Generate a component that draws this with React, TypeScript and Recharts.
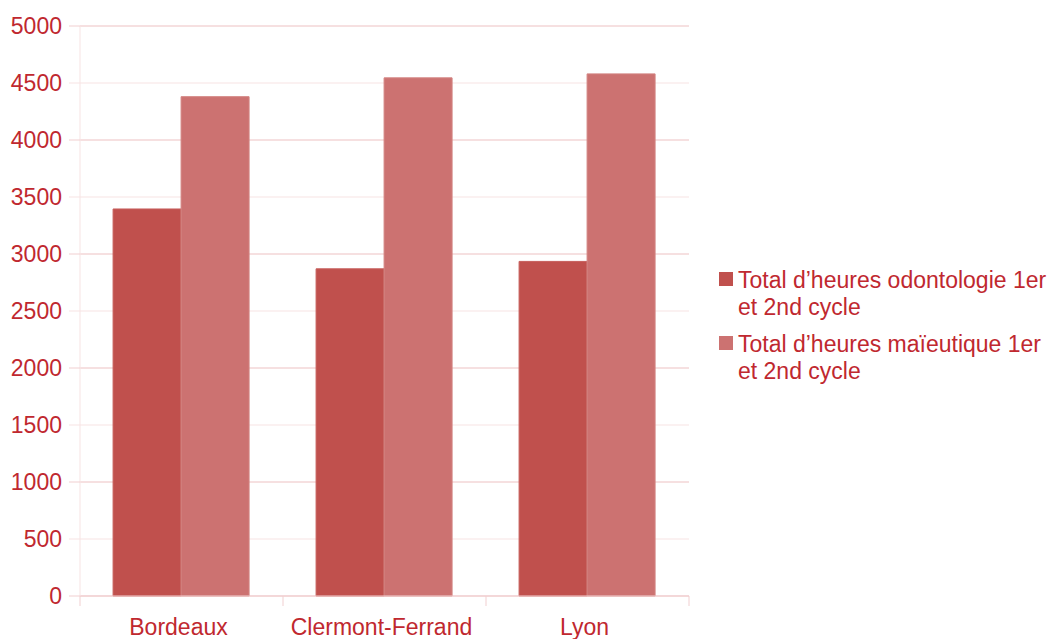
import React from "react";
import { Bar, BarChart, CartesianGrid, Legend, XAxis, YAxis } from "recharts";

const cities = ["Bordeaux", "Clermont-Ferrand", "Lyon"];
const odontologieHours = [3395, 2870, 2935];
const maieutiqueHours = [4380, 4545, 4580];
const seriesNames = [
  "Total d’heures odontologie 1er et 2nd cycle",
  "Total d’heures maïeutique 1er et 2nd cycle"
];
const yTicks = [0, 500, 1000, 1500, 2000, 2500, 3000, 3500, 4000, 4500, 5000];
const majorTicks = [0, 1000, 2000, 3000, 4000, 5000];

const chartData = cities.map((city, i) => ({
  city,
  odontologie: odontologieHours[i],
  maieutique: maieutiqueHours[i]
}));

const FONT = '"Liberation Sans", Arial, sans-serif';
const TEXT_COLOR = "#c0282f";
const GRID_MAJOR = "#f1cfd0";
const GRID_MINOR = "#f7e3e3";
const DARK_RED = "#c0504d";
const LIGHT_RED = "#cc7271";

function YTick(props: any) {
  const { x, y, payload } = props;
  const major = majorTicks.includes(payload.value);
  return (
    <g>
      <line x1={x - 11} x2={x} y1={y} y2={y} stroke={major ? GRID_MAJOR : GRID_MINOR} />
      <text x={x - 18} y={y} dy="0.355em" textAnchor="end" fill={TEXT_COLOR} fontSize={23} fontFamily={FONT}>
        {payload.value}
      </text>
    </g>
  );
}

function XTick(props: any) {
  const { x, y, payload, index, visibleTicksCount } = props;
  const half = payload.offset ?? 0;
  const last = index === visibleTicksCount - 1;
  return (
    <g>
      <line x1={x - half} x2={x - half} y1={y} y2={y + 10} stroke={GRID_MAJOR} />
      {last && <line x1={x + half} x2={x + half} y1={y} y2={y + 10} stroke={GRID_MAJOR} />}
      <text x={x - 3} y={y + 39} textAnchor="middle" fill={TEXT_COLOR} fontSize={23} fontFamily={FONT}>
        {payload.value}
      </text>
    </g>
  );
}

function LegendBody({ payload }: any) {
  // keep the series order rather than recharts' alphabetical sort
  const items = [...(payload ?? [])].sort(
    (a: any, b: any) => seriesNames.indexOf(a.value) - seriesNames.indexOf(b.value)
  );
  return (
    <div style={{ fontFamily: FONT, fontSize: 23, lineHeight: "27px", color: TEXT_COLOR }}>
      {items.map((entry: any) => (
        <div key={entry.value} style={{ display: "flex", alignItems: "flex-start", marginBottom: 10 }}>
          <span
            style={{ width: 14, height: 14, background: entry.color, marginTop: 5, marginRight: 5, flex: "none" }}
          />
          <span style={{ width: 315 }}>{entry.value}</span>
        </div>
      ))}
    </div>
  );
}

export default function App() {
  return (
    <div style={{ position: "absolute", left: 0, top: 0, width: 1053, height: 639, background: "#ffffff" }}>
      <BarChart
        width={1053}
        height={639}
        data={chartData}
        margin={{ top: 26, right: 364, bottom: 0, left: 0 }}
        barCategoryGap="16.3%"
        barGap={0}
      >
        <CartesianGrid vertical={false} stroke={GRID_MINOR} />
        <CartesianGrid vertical={false} stroke={GRID_MAJOR} horizontalValues={majorTicks} />
        <XAxis
          dataKey="city"
          height={43}
          tickSize={0}
          tickMargin={0}
          tickLine={false}
          axisLine={{ stroke: GRID_MAJOR }}
          tick={<XTick />}
          interval={0}
        />
        <YAxis
          width={80}
          domain={[0, 5000]}
          ticks={yTicks}
          interval={0}
          tickSize={0}
          tickMargin={0}
          tickLine={false}
          axisLine={{ stroke: GRID_MINOR }}
          tick={<YTick />}
        />
        <YAxis
          yAxisId="border"
          orientation="right"
          width={0}
          domain={[0, 5000]}
          tick={false}
          tickLine={false}
          axisLine={{ stroke: GRID_MAJOR }}
        />
        <Legend
          layout="horizontal"
          verticalAlign="middle"
          align="center"
          wrapperStyle={{ left: 719, top: 267, width: 334 }}
          content={<LegendBody />}
        />
        <Bar dataKey="odontologie" name={seriesNames[0]} fill={DARK_RED} stroke="#c65e5b" isAnimationActive={false} />
        <Bar dataKey="maieutique" name={seriesNames[1]} fill={LIGHT_RED} stroke="#d38381" isAnimationActive={false} />
      </BarChart>
    </div>
  );
}
